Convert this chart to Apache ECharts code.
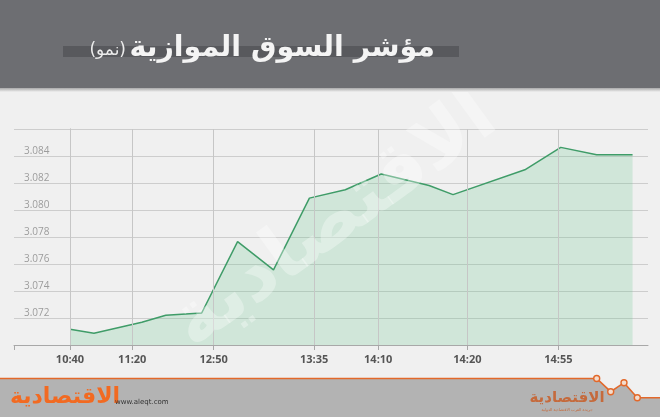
<!DOCTYPE html>
<html>
<head>
<meta charset="utf-8">
<script src="https://cdn.jsdelivr.net/npm/echarts@6/dist/echarts.min.js"></script>
<style>html,body{margin:0;padding:0;background:#f0f0f0;}#c{width:660px;height:417px;}</style>
</head>
<body>
<div id="c"></div>
<script>
// Tick labels (time of day) and their positions on the session slot scale
const timeLabels = ['10:40', '11:20', '12:50', '13:35', '14:10', '14:20', '14:55'];
const labelSlots = [0, 5.2, 12, 20.4, 25.75, 33.2, 40.8];
// Observation slots and index values
const pointSlots = [0, 2, 6, 8, 11, 14, 17, 20, 23, 26, 30, 32, 38, 41, 44, 47];
const indexValues = [3.07116, 3.07087, 3.07168, 3.07221, 3.07237, 3.07766, 3.07556, 3.08088,
                     3.0815, 3.08267, 3.08181, 3.08114, 3.08298, 3.08464, 3.0841, 3.0841];
const titleText = 'مؤشر السوق الموازية';
const subTitleText = '(نمو)';
const brandText = 'الاقتصادية';

const seriesData = pointSlots.map((s, i) => [s, indexValues[i]]);
const xMin = -4.68, xMax = 48.29;

const chart = echarts.init(document.getElementById('c'), null, {renderer: 'canvas'});
const orange = '#e2682a';
const zig = [[0, 378.5], [596.7, 378.5], [610.7, 391.7], [624, 382.7], [637.3, 397.7], [660, 397.7]];

chart.setOption({
  backgroundColor: '#f0f0f0',
  animation: false,
  grid: {left: 14, right: 12, top: 129, bottom: 72, containLabel: false},
  xAxis: {
    type: 'value', min: xMin, max: xMax,
    axisLine: {show: true, lineStyle: {color: '#a8a8a8', width: 1}},
    axisTick: {show: true, length: 5, lineStyle: {color: '#a8a8a8'}, customValues: [xMin].concat(labelSlots)},
    axisLabel: {
      customValues: labelSlots,
      margin: 9,
      fontFamily: 'Open Sans', fontWeight: 'bold', fontSize: 11, color: '#555555',
      formatter: function (v) {
        let best = 0;
        for (let i = 0; i < labelSlots.length; i++) if (Math.abs(labelSlots[i] - v) < Math.abs(labelSlots[best] - v)) best = i;
        return timeLabels[best];
      }
    },
    splitLine: {show: false}
  },
  yAxis: {
    type: 'value', min: 3.070, max: 3.086, interval: 0.002,
    axisLine: {show: true, lineStyle: {color: '#a8a8a8', width: 1}},
    axisTick: {show: false},
    axisLabel: {
      inside: true, margin: 10, verticalAlign: 'bottom',
      showMinLabel: false, showMaxLabel: false,
      fontFamily: 'Open Sans', fontSize: 10, color: '#9c9c9c',
      formatter: v => v.toFixed(3)
    },
    splitLine: {show: true, lineStyle: {color: '#cdcdcd', width: 1}}
  },
  series: [{
    type: 'line',
    data: seriesData,
    symbol: 'none',
    lineStyle: {color: '#3f9c68', width: 1.5},
    areaStyle: {color: 'rgba(100,195,140,0.32)', origin: 'start'},
    markLine: {
      silent: true, symbol: ['none', 'none'], animation: false,
      label: {show: false},
      lineStyle: {color: '#c6c6c6', width: 1, type: 'solid'},
      data: labelSlots.map(s => ({xAxis: s}))
    }
  }],
  graphic: [
    {type: 'rect', z: 50, shape: {x: 0, y: 0, width: 660, height: 88}, style: {fill: '#6d6e72'}},
    {type: 'rect', z: 50, shape: {x: 0, y: 88, width: 660, height: 4},
      style: {fill: new echarts.graphic.LinearGradient(0, 0, 0, 1, [{offset: 0, color: '#a9a9aa'}, {offset: 1, color: '#f0f0f0'}])}},
    {type: 'rect', z: 51, shape: {x: 63, y: 46, width: 396, height: 11}, style: {fill: '#58595d'}},
    {type: 'text', z: 52, x: 435, y: 49, style: {text: titleText, textAlign: 'right', textVerticalAlign: 'middle',
      font: 'bold 28.5px "DejaVu Sans"', fill: '#f4f4f4'}},
    {type: 'text', z: 52, x: 126, y: 51, style: {text: subTitleText, textAlign: 'right', textVerticalAlign: 'middle',
      font: '17px "DejaVu Sans"', fill: '#ececec'}},
    // watermark
    {type: 'text', z: 40, x: 335, y: 222, rotation: 36 * Math.PI / 180,
      style: {text: brandText, textAlign: 'center', textVerticalAlign: 'middle',
        font: 'bold 76px "DejaVu Sans"', fill: 'rgba(255,255,255,0.33)'}},
    // footer
    {type: 'polygon', z: 50, shape: {points: zig.concat([[660, 417], [0, 417]])}, style: {fill: '#b3b3b3'}},
    {type: 'polyline', z: 51, shape: {points: zig}, style: {stroke: orange, lineWidth: 1.6, fill: null}},
    ...zig.slice(1, 5).map(p => ({type: 'circle', z: 52, shape: {cx: p[0], cy: p[1], r: 3}, style: {fill: '#f4dccd', stroke: orange, lineWidth: 1.4}})),
    {type: 'text', z: 52, x: 65, y: 397, style: {text: brandText, textAlign: 'center', textVerticalAlign: 'middle',
      font: 'bold 22px "DejaVu Sans"', fill: '#f26a21'}},
    {type: 'text', z: 52, x: 115, y: 402, style: {text: 'www.aleqt.com', textAlign: 'left', textVerticalAlign: 'middle',
      font: '7px "DejaVu Sans"', fill: '#333333'}},
    {type: 'text', z: 52, x: 567, y: 398, style: {text: brandText, textAlign: 'center', textVerticalAlign: 'middle',
      font: 'bold 15px "DejaVu Sans"', fill: '#c56a3c'}},
    {type: 'text', z: 52, x: 567, y: 410, style: {text: 'جريدة العرب الاقتصادية الدولية', textAlign: 'center', textVerticalAlign: 'middle',
      font: '4px "DejaVu Sans"', fill: '#c56a3c'}}
  ]
});
</script>
</body>
</html>
